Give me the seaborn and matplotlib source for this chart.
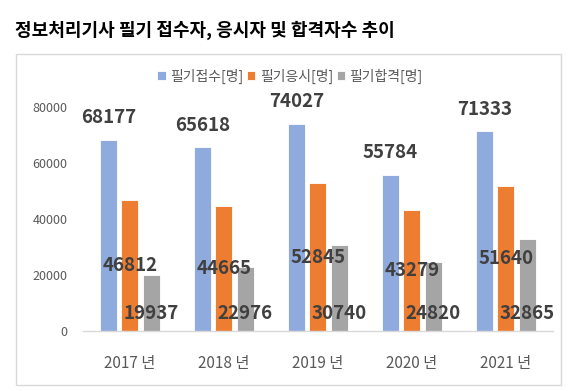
import matplotlib
matplotlib.use("Agg")
import matplotlib.pyplot as plt
from matplotlib.patches import Rectangle
import pandas as pd
import seaborn as sns

years = ["2017 년", "2018 년", "2019 년", "2020 년", "2021 년"]
series = ["필기접수[명]", "필기응시[명]", "필기합격[명]"]
applied = [68177, 65618, 74027, 55784, 71333]
attended = [46812, 44665, 52845, 43279, 51640]
passed = [19937, 22976, 30740, 24820, 32865]
yticks = [0, 20000, 40000, 60000, 80000]
title = "정보처리기사 필기 접수자, 응시자 및 합격자수 추이"
colors = ["#8faadc", "#ed7d31", "#a5a5a5"]

sns.set_theme(style="white")
plt.rcParams["font.family"] = ["Noto Sans CJK KR", "DejaVu Sans"]

rows = []
for name, vals in zip(series, [applied, attended, passed]):
    for y, v in zip(years, vals):
        rows.append({"year": y, "series": name, "value": v})
df = pd.DataFrame(rows)

W, H = 575, 391
fig = plt.figure(figsize=(W / 100, H / 100), dpi=100)
fig.patch.set_facecolor("white")

# outer chart border
fig.add_artist(Rectangle((15.5 / W, 1 - 385 / H), (561 - 15.5) / W, (385 - 54) / H,
                         transform=fig.transFigure, fill=False,
                         edgecolor="#d9d9d9", linewidth=1.0))

ax = fig.add_axes([82.7 / W, 1 - 331 / H, (553 - 82.7) / W, 224 / H])
sns.barplot(data=df, x="year", y="value", hue="series", palette=colors,
            saturation=1, width=0.68, gap=0.2, edgecolor="white", linewidth=0.6,
            ax=ax, legend=True)

ax.set_ylim(0, 80000)
ax.set_xlim(-0.5, 4.5)
ax.set_yticks(yticks)
ax.set_yticklabels([str(t) for t in yticks])
ax.set_xlabel("")
ax.set_ylabel("")
for s in ["top", "left", "right"]:
    ax.spines[s].set_visible(False)
ax.spines["bottom"].set_color("#d9d9d9")
ax.spines["bottom"].set_linewidth(1.0)
ax.tick_params(axis="y", length=0, pad=11, labelsize=9, labelcolor="#595959")
ax.tick_params(axis="x", length=0, pad=17, labelsize=11, labelcolor="#595959")

handles, labels = ax.get_legend_handles_labels()
ax.get_legend().remove()

lab_kw = dict(ha="center", va="center", fontsize=13.5, fontweight="bold",
              color="#404040", annotation_clip=False, textcoords="offset points")
for i, cont in enumerate(ax.containers):
    for bar in cont:
        x = bar.get_x() + bar.get_width() / 2
        h = bar.get_height()
        txt = f"{int(round(h))}"
        if i == 0:
            ax.annotate(txt, (x, h), xytext=(0, 16), **lab_kw)
        elif i == 1:
            ax.annotate(txt, (x, h / 2), xytext=(0, 0), **lab_kw)
        else:
            ax.annotate(txt, (x, 0), xytext=(0, 12.3), **lab_kw)

fig.legend(handles, labels, loc="center", bbox_to_anchor=(290 / W, 1 - 76 / H),
           ncol=3, frameon=False, fontsize=10, labelcolor="#595959",
           handlelength=0.6, handleheight=0.6, handletextpad=0.3,
           columnspacing=0.3, borderpad=0)

fig.text(15 / W, 1 - 30 / H, title, ha="left", va="center",
         fontsize=13, fontweight="bold", color="#000000")

fig.savefig("out.png", dpi=100)
